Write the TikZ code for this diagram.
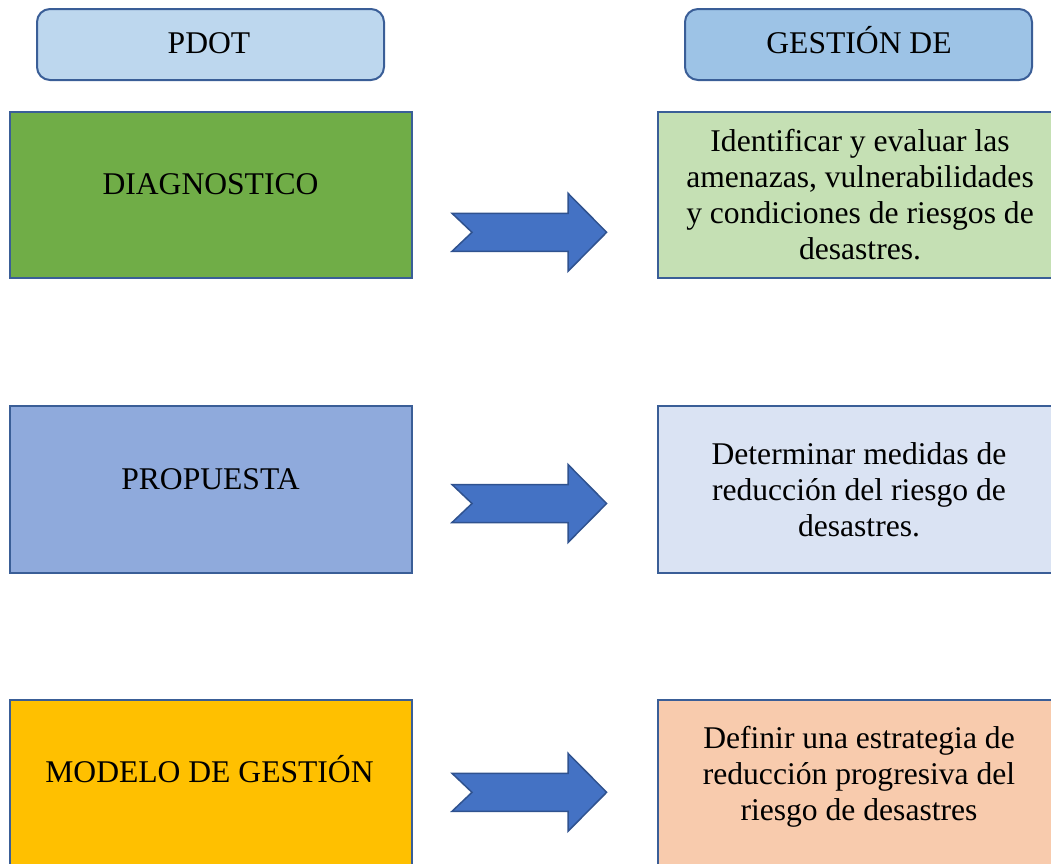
\documentclass[tikz,border=0pt]{standalone}
\usepackage{fontspec}
\setmainfont{Liberation Serif}
\definecolor{edge}{HTML}{3A5E97}
\definecolor{hdrA}{HTML}{BDD7EE}
\definecolor{hdrB}{HTML}{9DC3E6}
\definecolor{fillDiag}{HTML}{70AD47}
\definecolor{fillDiagR}{HTML}{C5E0B4}
\definecolor{fillProp}{HTML}{8FAADC}
\definecolor{fillPropR}{HTML}{DAE3F3}
\definecolor{fillMod}{HTML}{FFC000}
\definecolor{fillModR}{HTML}{F8CBAD}
\definecolor{arrowfill}{HTML}{4472C4}
\definecolor{arrowedge}{HTML}{2F528F}
\tikzset{
  hdrbox/.style={draw=edge, line width=2pt, rounded corners=13pt},
  stepbox/.style={draw=edge, line width=2pt},
  lbl/.style={font=\fontsize{31.6}{36}\selectfont, inner sep=0pt, align=center, anchor=base, text=black},
  blockarrow/.style={fill=arrowfill, draw=arrowedge, line width=1.5pt, line join=miter},
}
\begin{document}
\begin{tikzpicture}[x=1pt, y=-1pt]
\useasboundingbox (0,0) rectangle (1051,863);
\clip (0,0) rectangle (1051,863);
% headers
\draw[hdrbox, fill=hdrA] (37,9) rectangle (384,80);
\node[lbl] (hpdot) at (209,53.3) {PDOT};
\draw[hdrbox, fill=hdrB] (685,9) rectangle (1032,80);
\node[lbl] (hgest) at (859,53.3) {GESTIÓN DE};
% left boxes
\draw[stepbox, fill=fillDiag] (10,111.5) rectangle (412,278);
\node[lbl] (diag) at (210.5,194) {DIAGNOSTICO};
\draw[stepbox, fill=fillProp] (10,406) rectangle (412,572.7);
\node[lbl] (prop) at (210.5,489.3) {PROPUESTA};
\draw[stepbox, fill=fillMod] (10,700) rectangle (412,880);
\node[lbl] (mod) at (209.5,782.7) {MODELO DE GESTIÓN};
% right boxes (text anchored at the baseline of the last line)
\draw[stepbox, fill=fillDiagR] (658.3,111.5) rectangle (1070,278);
\node[lbl] (diagR) at (860,259.3) {Identificar y evaluar las\\amenazas, vulnerabilidades\\y condiciones de riesgos de\\desastres.};
\draw[stepbox, fill=fillPropR] (658.3,406) rectangle (1070,572.7);
\node[lbl] (propR) at (859,536.7) {Determinar medidas de\\reducción del riesgo de\\desastres.};
\draw[stepbox, fill=fillModR] (658.3,700) rectangle (1070,880);
\node[lbl] (modR) at (859,820) {Definir una estrategia de\\reducción progresiva del\\riesgo de desastres};
% block arrows
\foreach \c/\n in {232.3/a1, 503.5/a2, 792.3/a3}{
  \coordinate (\n) at (452,\c);
  \draw[blockarrow] (\n) ++(0,-19) -- ++(116,0) -- ++(0,-20) -- ++(38.6,39) -- ++(-38.6,39) -- ++(0,-20) -- ++(-116,0) -- ++(20,-19) -- cycle;
}
\end{tikzpicture}
\end{document}
